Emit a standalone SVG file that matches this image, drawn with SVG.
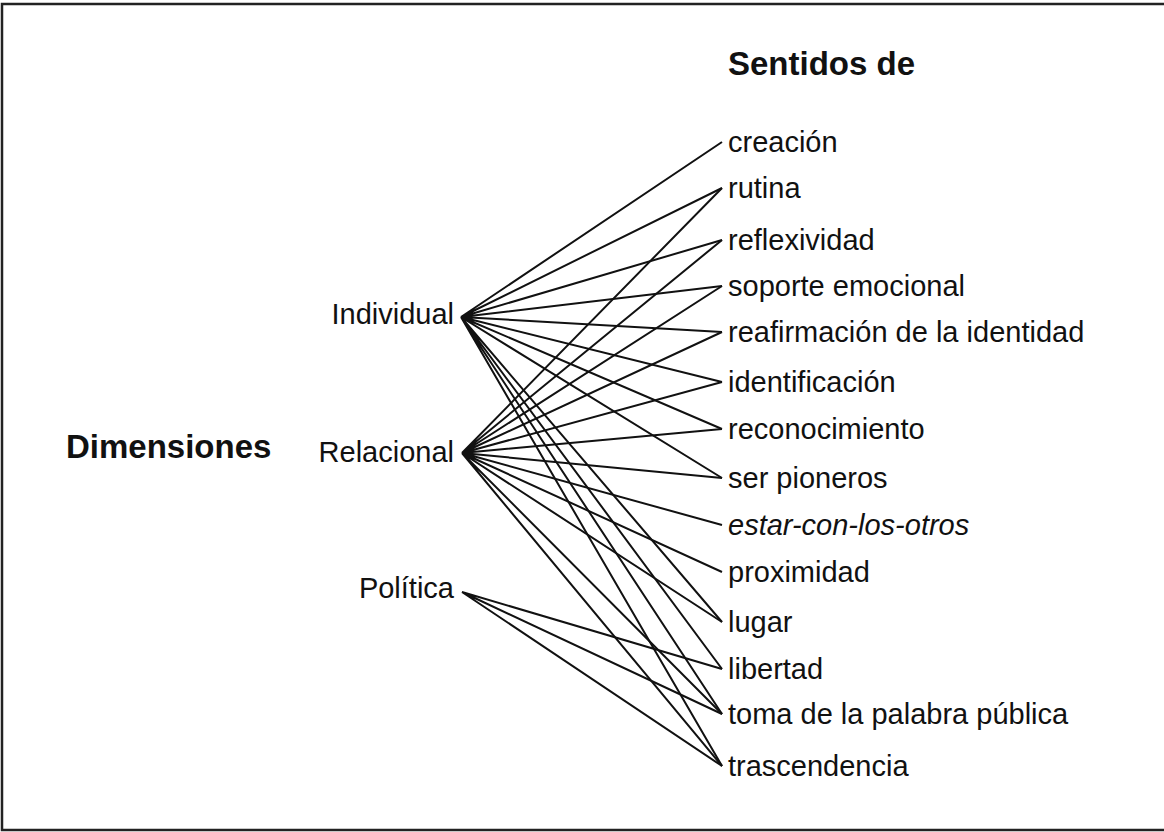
<svg xmlns="http://www.w3.org/2000/svg" width="1164" height="832" viewBox="0 0 1164 832">
<style>
.lbl{font-family:"Liberation Sans",Arial,sans-serif;font-size:29px;fill:#111}
.hd{font-family:"Liberation Sans",Arial,sans-serif;font-size:33px;font-weight:bold;fill:#111}
.it{font-style:italic}
.edge{stroke:#111;stroke-width:2;fill:none}
.end{text-anchor:end}
</style>
<rect x="0" y="0" width="1164" height="832" fill="#fff"/>
<path d="M1166,4 H2 V830 H1166" fill="none" stroke="#222" stroke-width="2.5"/>
<g id="headings">
<text class="hd" x="728" y="75">Sentidos de</text>
<text class="hd" x="66" y="458">Dimensiones</text>
</g>
<g id="dimensions">
<g id="n-individual"><text class="lbl end" x="454" y="324">Individual</text></g>
<g id="n-relacional"><text class="lbl end" x="454" y="462">Relacional</text></g>
<g id="n-politica"><text class="lbl end" x="454" y="598">Política</text></g>
</g>
<g id="senses">
<g id="s-creacion"><text class="lbl" x="728" y="152">creación</text></g>
<g id="s-rutina"><text class="lbl" x="728" y="198">rutina</text></g>
<g id="s-reflexividad"><text class="lbl" x="728" y="250">reflexividad</text></g>
<g id="s-soporte"><text class="lbl" x="728" y="296">soporte emocional</text></g>
<g id="s-reafirmacion"><text class="lbl" x="728" y="342">reafirmación de la identidad</text></g>
<g id="s-identificacion"><text class="lbl" x="728" y="392">identificación</text></g>
<g id="s-reconocimiento"><text class="lbl" x="728" y="439">reconocimiento</text></g>
<g id="s-pioneros"><text class="lbl" x="728" y="488">ser pioneros</text></g>
<g id="s-estar"><text class="lbl it" x="728" y="535">estar-con-los-otros</text></g>
<g id="s-proximidad"><text class="lbl" x="728" y="582">proximidad</text></g>
<g id="s-lugar"><text class="lbl" x="728" y="632">lugar</text></g>
<g id="s-libertad"><text class="lbl" x="728" y="679">libertad</text></g>
<g id="s-toma"><text class="lbl" x="728" y="724">toma de la palabra pública</text></g>
<g id="s-trascendencia"><text class="lbl" x="728" y="776">trascendencia</text></g>
</g>
<g id="connectors" class="edge">
<path d="M461,317 L722,142 M461,317 L722,188 M461,317 L722,240 M461,317 L722,286 M461,317 L722,332 M461,317 L722,382 M461,317 L722,429 M461,317 L722,478 M461,317 L722,622 M461,317 L722,669 M461,317 L722,714 M461,317 L722,766"/>
<path d="M462,453 L722,188 M462,453 L722,240 M462,453 L722,286 M462,453 L722,332 M462,453 L722,382 M462,453 L722,429 M462,453 L722,478 M462,453 L722,525 M462,453 L722,572 M462,453 L722,622 M462,453 L722,714 M462,453 L722,766"/>
<path d="M462,592 L722,669 M462,592 L722,714 M462,592 L722,766"/>
</g>
</svg>
